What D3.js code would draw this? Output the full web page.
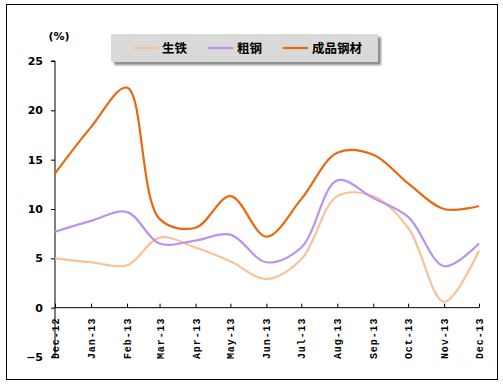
<!DOCTYPE html>
<html><head><meta charset="utf-8">
<script src="https://cdn.jsdelivr.net/npm/d3@7"></script>
<style>
html,body{margin:0;padding:0;background:#fff;}
svg{display:block;}
</style></head>
<body>
<svg id="c" width="503" height="386"></svg>
<script>
const months = ["Dec-12","Jan-13","Feb-13","Mar-13","Apr-13","May-13","Jun-13","Jul-13","Aug-13","Sep-13","Oct-13","Nov-13","Dec-13"];
const monthDates = [[2012,11],[2013,0],[2013,1],[2013,2],[2013,3],[2013,4],[2013,5],[2013,6],[2013,7],[2013,8],[2013,9],[2013,10],[2013,11]];
const pigIron = [5.0, 4.6, 4.3, 7.1, 6.1, 4.7, 2.9, 4.9, 11.3, 11.3, 8.1, 0.6, 5.8];
const crudeSteel = [7.7, 8.8, 9.7, 6.5, 6.8, 7.4, 4.6, 6.1, 12.9, 11.1, 9.2, 4.2, 6.5];
const steelProducts = [13.6, 18.3, 22.3, 9.0, 8.1, 11.3, 7.2, 11.0, 15.7, 15.5, 12.6, 10.0, 10.3];
const seriesNames = ["生铁","粗钢","成品钢材"];
const seriesColors = ["#F7C29A","#B794EE","#E8690F"];
const yTicks = [-5,0,5,10,15,20,25];

const dates = monthDates.map(d => new Date(d[0], d[1], 1));
const svg = d3.select("#c");

svg.append("rect").attr("x",6.5).attr("y",4.5).attr("width",491).attr("height",375)
  .attr("fill","#fff").attr("stroke","#000").attr("stroke-width",1);

const x = d3.scaleTime().domain([dates[0], dates[dates.length-1]]).range([55,479]);
const y = d3.scaleLinear().domain([-5,25]).range([357,61]);

const yAxis = svg.append("g").attr("transform","translate(55,0)")
  .call(d3.axisLeft(y).tickValues(yTicks).tickSize(4).tickPadding(8).tickFormat(d => d < 0 ? "\u2212" + Math.abs(d) : d));
yAxis.select(".domain").attr("stroke","#000").attr("d", `M-4,${y(25)}H0V${y(-5)}H-4`);
yAxis.selectAll("line").attr("stroke","#000");
yAxis.selectAll("text").attr("font-family","'DejaVu Sans', sans-serif").attr("font-weight","bold")
  .attr("font-size","11px").attr("fill","#000");

const xAxis = svg.append("g").attr("transform",`translate(0,${y(0)})`)
  .call(d3.axisBottom(x).tickValues(dates).tickSize(-4).tickFormat((d,i) => months[i]));
xAxis.select(".domain").attr("stroke","#000").attr("d", `M55,0H479`);
xAxis.selectAll("line").attr("stroke","#000");
xAxis.selectAll("text")
  .attr("font-family","'Liberation Mono', monospace").attr("font-weight","bold")
  .attr("font-size","10px").attr("letter-spacing","0.9px").attr("fill","#000")
  .attr("text-anchor","end").attr("dy","0.35em")
  .attr("transform","translate(0,10) rotate(-90)")
  .attr("x",0).attr("y",0);

svg.append("text").attr("x",59).attr("y",40).attr("text-anchor","middle")
  .attr("font-family","'DejaVu Sans', sans-serif").attr("font-weight","bold").attr("font-size","11px")
  .text("(%)");

const line = d3.line().x((d,i) => x(dates[i])).y(d => y(d)).curve(d3.curveCatmullRom.alpha(0.5));
[pigIron, crudeSteel, steelProducts].forEach((s,k) => {
  svg.append("path").datum(s).attr("d", line).attr("fill","none")
    .attr("stroke", seriesColors[k]).attr("stroke-width",2.2).attr("stroke-linejoin","round");
});

const defs = svg.append("defs");
const f = defs.append("filter").attr("id","blur").attr("x","-10%").attr("y","-30%").attr("width","120%").attr("height","160%");
f.append("feGaussianBlur").attr("stdDeviation",1.2);
const lg = svg.append("g");
lg.append("rect").attr("x",114).attr("y",37).attr("width",267).attr("height",28).attr("fill","#8c8c8c").attr("filter","url(#blur)");
lg.append("rect").attr("x",111).attr("y",34).attr("width",267).attr("height",28).attr("fill","#D9D9D9");
const legX = [133, 208, 283];
seriesNames.forEach((n,k) => {
  lg.append("line").attr("x1",legX[k]).attr("x2",legX[k]+25).attr("y1",48).attr("y2",48)
    .attr("stroke",seriesColors[k]).attr("stroke-width",2.2);
  lg.append("text").attr("x",legX[k]+29).attr("y",53)
    .attr("font-family","'Noto Sans CJK SC', sans-serif").attr("font-weight","bold").attr("font-size","12.5px")
    .attr("fill","#000").text(n);
});
</script>
</body></html>
